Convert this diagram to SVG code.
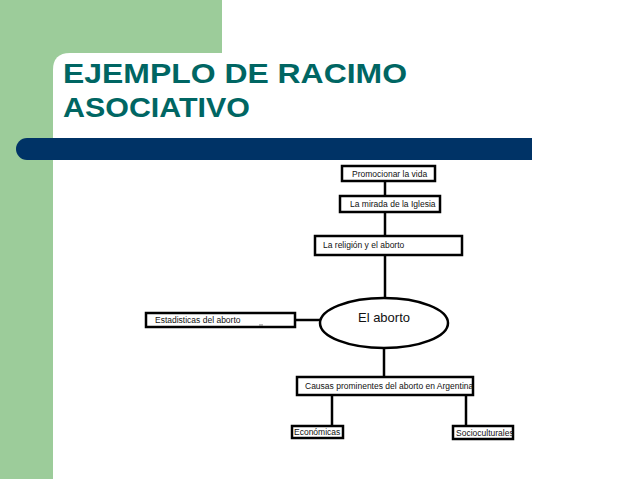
<svg xmlns="http://www.w3.org/2000/svg" width="638" height="479" viewBox="0 0 638 479">
<style>
.b{fill:#fff;stroke:#000;stroke-width:2.5}
.t{font-family:"Liberation Sans",Arial,sans-serif;font-size:8.5px;fill:#111}
.c{stroke:#000;stroke-width:2.5;fill:none}
.h{font-family:"Liberation Sans",Arial,sans-serif;font-weight:bold;font-size:28px;fill:#006663}
</style>
<rect width="638" height="479" fill="#fff"/>
<rect x="0" y="0" width="53" height="479" fill="#9ccc9a"/>
<rect x="0" y="0" width="222" height="70" fill="#9ccc9a"/>
<path d="M53 479 V70 Q53 53 70 53 H638 V479 Z" fill="#fff"/>
<text class="h" x="63" y="83" textLength="344" lengthAdjust="spacingAndGlyphs">EJEMPLO DE RACIMO</text>
<text class="h" x="63" y="117" textLength="187" lengthAdjust="spacingAndGlyphs">ASOCIATIVO</text>
<path d="M27 138 H532 V160 H27 A11 11 0 0 1 27 138 Z" fill="#003366"/>
<g id="connectors">
<line class="c" x1="385" y1="181" x2="385" y2="196"/>
<line class="c" x1="385" y1="212" x2="385" y2="236"/>
<line class="c" x1="385" y1="255" x2="385" y2="298"/>
<line class="c" x1="295" y1="320" x2="320" y2="320"/>
<line class="c" x1="384" y1="348" x2="384" y2="377"/>
<line class="c" x1="332" y1="395" x2="332" y2="426"/>
<line class="c" x1="466" y1="395" x2="466" y2="426"/>
</g>
<g id="n1"><rect class="b" x="342" y="166" width="93" height="15"/><text class="t" x="352" y="177">Promocionar la vida</text></g>
<g id="n2"><rect class="b" x="340" y="196" width="100" height="16"/><text class="t" x="350" y="207">La mirada de la Iglesia</text></g>
<g id="n3"><rect class="b" x="315" y="236" width="147" height="19"/><text class="t" x="323" y="248">La religión y el aborto</text></g>
<g id="center"><ellipse cx="384" cy="323" rx="64" ry="25" fill="#fff" stroke="#000" stroke-width="2.5"/><text x="384" y="322" text-anchor="middle" font-family="Liberation Sans,Arial,sans-serif" font-size="13" fill="#111">El aborto</text></g>
<g id="n4"><rect class="b" x="146" y="313" width="149" height="14"/><text class="t" x="155" y="323">Estadisticas del aborto</text><line x1="259" y1="325" x2="263" y2="325" stroke="#555" stroke-width="0.8"/></g>
<g id="n5"><rect class="b" x="297" y="377" width="176" height="18"/><text class="t" x="305" y="389">Causas prominentes del aborto en Argentina</text></g>
<g id="n6"><rect class="b" x="292" y="426" width="51" height="12"/><text class="t" x="294" y="435">Económicas</text></g>
<g id="n7"><rect class="b" x="453" y="426" width="60" height="13"/><text class="t" x="456" y="436">Socioculturales</text></g>
</svg>
